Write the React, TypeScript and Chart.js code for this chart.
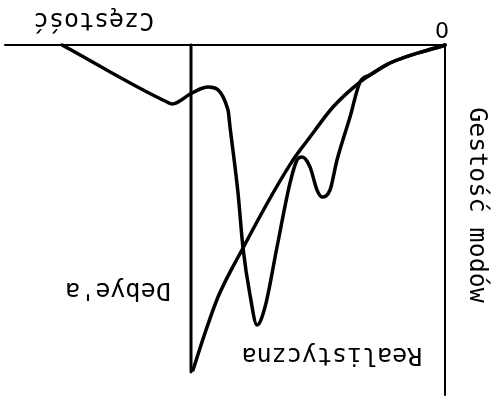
import React, { useEffect, useRef } from "react";
import { Chart, registerables } from "chart.js";

Chart.register(...registerables);

// Frequency (arbitrary units) and density of modes
const debyeFreq = [0, 0.55, 0.75, 0.85, 1.12, 1.35, 1.52, 1.72, 2.02, 2.27, 2.4, 2.52];
const debyeDensity = [0, 0.18, 0.3, 0.37, 0.62, 0.92, 1.15, 1.48, 2.03, 2.52, 2.88, 3.25];

const realFreq = [
  0, 0.55, 0.75, 0.85, 0.95, 1.08, 1.15, 1.23, 1.28, 1.35, 1.43, 1.48, 1.55,
  1.68, 1.8, 1.88, 1.95, 2.02, 2.07, 2.15, 2.17, 2.37, 2.53, 2.73, 2.78, 3.83,
];
const realDensity = [
  0, 0.18, 0.3, 0.37, 0.72, 1.15, 1.45, 1.52, 1.45, 1.22, 1.12, 1.15, 1.38,
  2.02, 2.62, 2.8, 2.5, 2.03, 1.48, 0.82, 0.65, 0.42, 0.48, 0.59, 0.57, 0,
];

const cutoffFreq = [2.54, 2.54];
const cutoffDensity = [0, 3.27];

const axisXFreq = [0, 4.4];
const axisXDensity = [0, 0];
const axisYFreq = [0, 0];
const axisYDensity = [0, 3.5];

const xTickLabels = ["0"];
const xTitle = "Częstość";
const yTitle = "Gestość modów";
const debyeLabel = "Debye'a";
const realLabel = "Realistyczna";

const pts = (xs: number[], ys: number[]) => xs.map((x, i) => ({ x, y: ys[i] }));

const FONT = '"DejaVu Sans Mono", monospace';

const labelPlugin = {
  id: "textLabels",
  afterDraw(chart: any) {
    const ctx = chart.ctx as CanvasRenderingContext2D;
    const { left, bottom } = chart.chartArea;
    ctx.save();
    ctx.fillStyle = "#000";
    ctx.textAlign = "center";
    ctx.textBaseline = "alphabetic";
    ctx.font = `25px ${FONT}`;
    ctx.fillText(xTitle, left + 351, bottom + 32);
    ctx.fillText(debyeLabel, left + 327, bottom - 238);
    ctx.fillText(realLabel, left + 113, bottom - 303);
    ctx.font = `22px "DejaVu Sans", sans-serif`;
    ctx.fillText(xTickLabels[0], left + 3, bottom + 23);
    ctx.font = `25px ${FONT}`;
    ctx.translate(left - 25, bottom - 160);
    ctx.rotate(-Math.PI / 2);
    ctx.fillText(yTitle, 0, 0);
    ctx.restore();
  },
};

export default function App() {
  const ref = useRef<HTMLCanvasElement>(null);
  useEffect(() => {
    if (!ref.current) return;
    const line = (data: any, width: number, smooth = false) => ({
      data,
      showLine: true,
      borderColor: "#000",
      backgroundColor: "#000",
      borderWidth: width,
      borderCapStyle: "round",
      borderJoinStyle: "round",
      pointRadius: 0,
      fill: false,
      tension: smooth ? 0.4 : 0,
      cubicInterpolationMode: smooth ? "monotone" : "default",
      clip: false,
    });
    const chart = new Chart(ref.current, {
      type: "scatter",
      data: {
        datasets: [
          line(pts(axisXFreq, axisXDensity), 2),
          line(pts(axisYFreq, axisYDensity), 2),
          line(pts(cutoffFreq, cutoffDensity), 3),
          line(pts(debyeFreq, debyeDensity), 3.5, true),
          line(pts(realFreq, realDensity), 3.5, true),
        ] as any,
      },
      options: {
        animation: false,
        responsive: true,
        maintainAspectRatio: false,
        layout: { padding: { left: 49, right: 5, top: 6, bottom: 45 } },
        plugins: { legend: { display: false }, tooltip: { enabled: false } },
        scales: {
          x: { type: "linear", min: 0, max: 4.4, display: false },
          y: { type: "linear", min: 0, max: 3.5, display: false },
        },
      },
      plugins: [labelPlugin],
    });
    return () => chart.destroy();
  }, []);
  return (
    <div
      style={{
        position: "fixed",
        left: 0,
        top: 0,
        width: 494,
        height: 401,
        background: "#fff",
        transform: "rotate(180deg)",
      }}
    >
      <canvas ref={ref} />
    </div>
  );
}
